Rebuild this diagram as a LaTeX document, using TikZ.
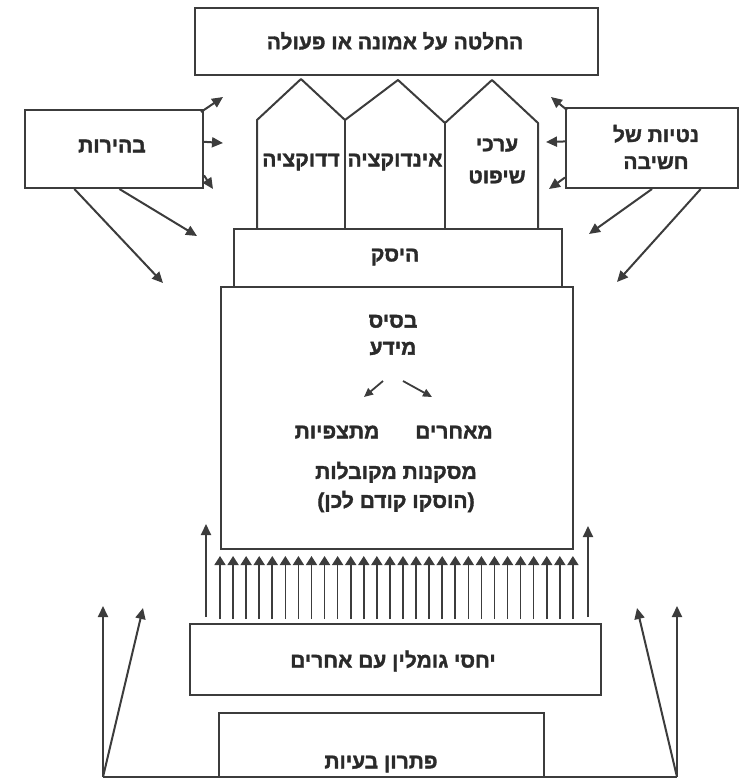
\documentclass[tikz,border=0pt]{standalone}
\usepackage{fontspec}
\TeXXeTstate=1
\newfontfamily\hebfont[Script=Hebrew, FakeBold=1.6]{Liberation Sans Bold}
\usetikzlibrary{arrows.meta,calc}
\definecolor{ink}{HTML}{3C3C3C}
\definecolor{txt}{HTML}{2A2A2A}
\newcommand\hebt[1]{\beginR #1\endR}
\tikzset{
  box/.style={draw=ink, line width=2pt, inner sep=0pt},
  lbl/.style={text=txt, inner sep=0pt, font=\hebfont\fontsize{21}{27}\selectfont, align=center},
  arr/.style={draw=ink, line width=2pt, -{Triangle[length=11pt,width=10pt]}},
  sarr/.style={draw=ink, line width=1.6pt, -{Triangle[length=9pt,width=11pt]}},
}
\begin{document}
\begin{tikzpicture}[x=1pt,y=-1pt]
\useasboundingbox (0,0) rectangle (739,780);
% boxes
\node[box, minimum width=403pt, minimum height=67pt] (top) at (396.5,41.5) {};
\node[box, minimum width=178pt, minimum height=78pt] (bh) at (114,149) {};
\node[box, minimum width=172pt, minimum height=80pt] (nt) at (652,148) {};
\node[box, minimum width=328pt, minimum height=58pt] (hs) at (398,258) {};
\node[box, minimum width=352pt, minimum height=262pt] (base) at (397,418) {};
\node[box, minimum width=411pt, minimum height=71pt] (yg) at (395.5,659.5) {};
\node[box, minimum width=325pt, minimum height=64pt] (pt) at (381.5,745) {};
% houses
\draw[ink, line width=2pt, line join=round]
  (257,229) -- (257,120) -- (301,79) -- (345,120) -- (398,80) -- (445,123) -- (492,80) -- (538,123) -- (538,229);
\draw[ink, line width=2pt] (345,120) -- (345,229);
\draw[ink, line width=2pt] (445,123) -- (445,229);
% labels
\node[lbl] (ttop) at (395,41) {\hebt{החלטה על אמונה או פעולה}};
\node[lbl] (tbh) at (112,146) {\hebt{בהירות}};
\node[lbl] (tnt) at (656,147) {\hebt{נטיות של}\\\hebt{חשיבה}};
\node[lbl] (tded) at (301,162) {\hebt{דדוקציה}};
\node[lbl] (tind) at (395,162) {\hebt{אינדוקציה}};
\node[lbl, font=\hebfont\fontsize{21}{32}\selectfont] (terk) at (497,161) {\hebt{ערכי}\\\hebt{שיפוט}};
\node[lbl] (ths) at (395,257) {\hebt{היסק}};
\node[lbl] (tbs) at (393,335) {\hebt{בסיס}\\\hebt{מידע}};
\node[lbl] (tmh) at (454,432) {\hebt{מאחרים}};
\node[lbl] (tmt) at (337,432) {\hebt{מתצפיות}};
\node[lbl, font=\hebfont\fontsize{21}{29}\selectfont] (tmk) at (396,487) {\hebt{מסקנות מקובלות}\\\hebt{(הוסקו קודם לכן)}};
\node[lbl] (tyg) at (393,661) {\hebt{יחסי גומלין עם אחרים}};
\node[lbl] (tpt) at (381,764) {\hebt{פתרון בעיות}};
% inner arrows
\coordinate (ia) at (383,381);
\coordinate (ib) at (403,381);
\draw[arr, line width=1.8pt, -{Triangle[length=9pt,width=8pt]}] (ia) -- (364,397);
\draw[arr, line width=1.8pt, -{Triangle[length=9pt,width=8pt]}] (ib) -- (432,397);
% arrows from bh
\draw[arr] ($(bh.north east)+(-3,3)$) -- (223,97);
\draw[arr] ($(bh.north east)!0.41!(bh.south east)$) -- (223,143);
\draw[arr] ($(bh.north east)!0.83!(bh.south east)$) -- (213,189);
\draw[arr] ($(bh.south west)!0.28!(bh.south east)$) -- (163,283);
\draw[arr] ($(bh.south west)!0.53!(bh.south east)$) -- (197,236);
% arrows from nt
\draw[arr] ($(nt.north west)+(2,3)$) -- (551,97);
\draw[arr] ($(nt.north west)!0.42!(nt.south west)$) -- (546,142);
\draw[arr] ($(nt.north west)!0.86!(nt.south west)$) -- (549,189);
\draw[arr] ($(nt.south west)!0.5!(nt.south east)$) -- (589,234);
\draw[arr] ($(nt.south west)!0.78!(nt.south east)$) -- (617,282);
% many small arrows from yg to base
\foreach \i in {0,...,27}{
  \draw[sarr] ($(base.south west)+(\i*13.07,69)$) -- ($(base.south west)+(\i*13.07,6)$);
}
% long side arrows
\draw[arr] ($(yg.north west)+(17,-6)$) -- ($(base.south west)+(-14,-26)$);
\draw[arr] ($(yg.north east)+(-14,-6)$) -- ($(base.south east)+(14,-24)$);
% outer arrows
\coordinate (bl) at (103,777);
\coordinate (br) at (677,777);
\draw[ink, line width=2pt] (bl) -- (br);
\draw[arr] (bl) -- (103,606);
\draw[arr] (bl) -- (143,608);
\draw[arr] (br) -- (677,606);
\draw[arr] (br) -- (637,608);
\end{tikzpicture}
\end{document}
